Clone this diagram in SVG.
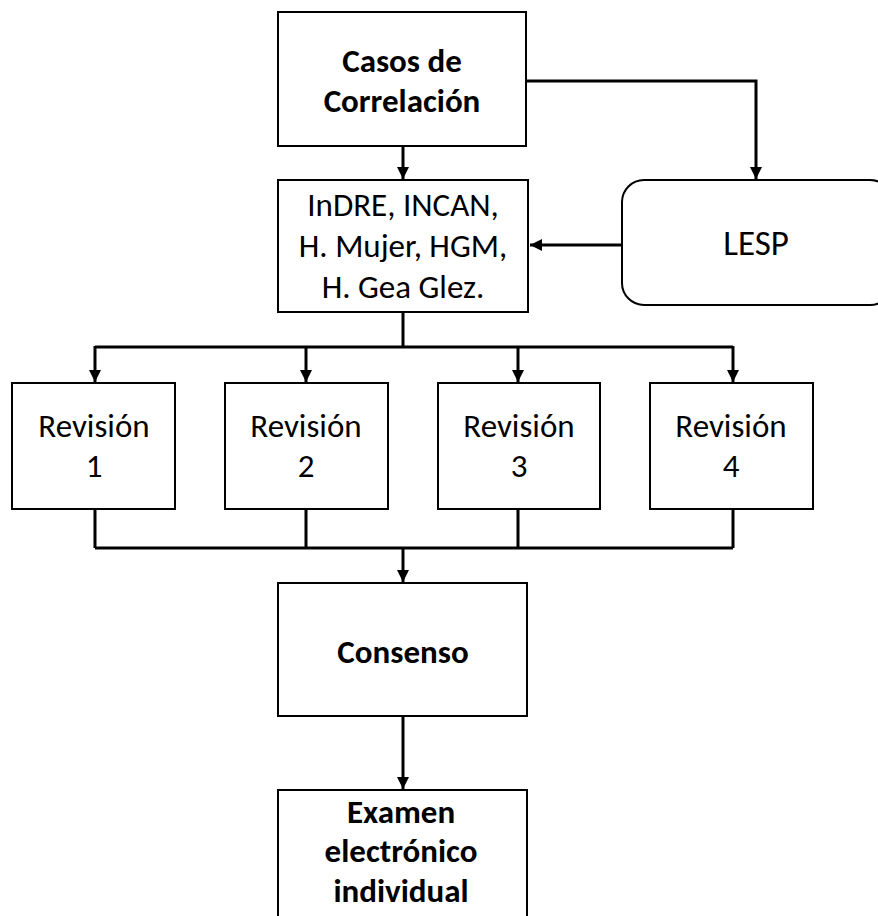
<svg xmlns="http://www.w3.org/2000/svg" width="878" height="916" viewBox="0 0 878 916">
  <defs>
    <marker id="arrow" viewBox="0 0 10 10" refX="10" refY="5" markerWidth="4" markerHeight="4" markerUnits="strokeWidth" orient="auto">
      <path d="M0,0 L10,5 L0,10 z" fill="#000"/>
    </marker>
  </defs>
  <style>
    .box { fill: #fff; stroke: #000; stroke-width: 2; }
    .conn { fill: none; stroke: #000; stroke-width: 3; }
    .arr { marker-end: url(#arrow); }
    text { font-family: "Carlito", "Liberation Sans", sans-serif; font-size: 33px; fill: #000; text-anchor: middle; }
    .b { font-weight: bold; }
    .big { font-size: 35px; }
  </style>
  <rect width="878" height="916" fill="#fff"/>

  <g id="connectors">
    <path class="conn arr" d="M403,146 V179"/>
    <path class="conn arr" d="M526,81 H756 V179"/>
    <path class="conn arr" d="M622,245 H530"/>
    <path class="conn" d="M403,312 V347 M95,347 H733"/>
    <path class="conn arr" d="M95,346 V382"/>
    <path class="conn arr" d="M306,346 V382"/>
    <path class="conn arr" d="M518,346 V382"/>
    <path class="conn arr" d="M733,346 V382"/>
    <path class="conn" d="M95,509 V548 M306,509 V548 M518,509 V548 M733,509 V548 M95,548 H733"/>
    <path class="conn arr" d="M403,548 V582"/>
    <path class="conn arr" d="M403,716 V789"/>
  </g>

  <g id="casos">
    <rect class="box" x="278" y="12" width="248" height="134"/>
    <text class="b" x="402" y="72">Casos de</text>
    <text class="b" x="402" y="112">Correlación</text>
  </g>

  <g id="instituciones">
    <rect class="box" x="278" y="180" width="250" height="132"/>
    <text x="403" y="216">InDRE, INCAN,</text>
    <text x="403" y="257">H. Mujer, HGM,</text>
    <text x="403" y="298">H. Gea Glez.</text>
  </g>

  <g id="lesp">
    <rect class="box" x="622" y="180" width="270" height="125" rx="22" ry="22"/>
    <text class="big" x="756" y="255">LESP</text>
  </g>

  <g id="revision1">
    <rect class="box" x="12" y="383" width="163" height="126"/>
    <text x="94" y="437">Revisión</text>
    <text x="94" y="477">1</text>
  </g>
  <g id="revision2">
    <rect class="box" x="225" y="383" width="163" height="126"/>
    <text x="306" y="437">Revisión</text>
    <text x="306" y="477">2</text>
  </g>
  <g id="revision3">
    <rect class="box" x="438" y="383" width="162" height="126"/>
    <text x="519" y="437">Revisión</text>
    <text x="519" y="477">3</text>
  </g>
  <g id="revision4">
    <rect class="box" x="650" y="383" width="163" height="126"/>
    <text x="731" y="437">Revisión</text>
    <text x="731" y="477">4</text>
  </g>

  <g id="consenso">
    <rect class="box" x="278" y="583" width="249" height="133"/>
    <text class="b" x="403" y="663">Consenso</text>
  </g>

  <g id="examen">
    <rect class="box" x="278" y="790" width="249" height="140"/>
    <text class="b" x="401" y="823">Examen</text>
    <text class="b" x="401" y="862">electrónico</text>
    <text class="b" x="401" y="902">individual</text>
  </g>
</svg>
